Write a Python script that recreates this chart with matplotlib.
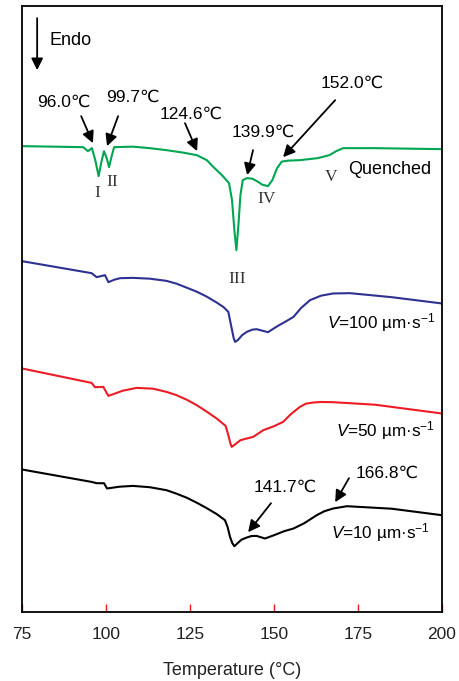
import matplotlib.pyplot as plt

plt.rcParams['font.family'] = ['Liberation Sans', 'DejaVu Sans']
plt.rcParams['mathtext.fontset'] = 'custom'
plt.rcParams['mathtext.rm'] = 'Liberation Sans'
plt.rcParams['mathtext.it'] = 'Liberation Sans:italic'

# heat flow in arbitrary units (endo down)
temp_q = [75, 93.2, 94.6, 95.8, 96.8, 97.8, 98.6, 99.4, 100.2, 100.9, 101.6, 102.4,
          108, 113, 118, 123, 127, 130, 132, 134.5, 136.6, 137.5, 138.2, 138.8,
          139.4, 140.0, 140.7, 141.9, 143.5, 144.9, 146.5, 148.2, 149.5, 150.9,
          152.3, 154, 157.7, 163, 166.5, 168.5, 170.6, 180, 200]
heat_q = [146, 147, 151, 148, 160, 176, 162, 151, 158, 167, 157, 147,
          146.5, 148, 150, 152.5, 155, 160, 167, 175, 183, 200, 230, 250,
          225, 195, 180, 178, 178.5, 181, 184.5, 186, 180, 168,
          161.5, 160.5, 160, 158, 155, 151, 148, 148, 149]

temp_100 = [75, 95.7, 97.2, 99.7, 100.7, 102.5, 104.2, 108, 113, 118, 121, 124, 127, 130, 133,
            135, 136.4, 137.3, 138.0, 138.4, 139.2, 140.5, 141.9, 143.5, 144.8, 146.5, 148.2,
            151, 153.8, 155.8, 158, 160.7, 164, 167.6, 172.6, 185, 200]
heat_100 = [261, 273, 277, 275, 282, 279.5, 278, 277.7, 278.5, 280.7, 283.5, 287.5, 291.5, 296.5, 302.5,
            307, 311.7, 326.7, 338, 341.7, 340, 335, 331.7, 329.5, 329, 330.5, 332,
            326, 320.7, 316.7, 308, 300, 295.5, 293.3, 293, 297, 303.3]

temp_50 = [75, 95.7, 96.7, 99.2, 100.7, 102.7, 105, 109.1, 114, 118, 121, 124, 127, 130, 133,
           135.6, 136.4, 137.0, 137.4, 138.5, 140, 141.9, 143.8, 146.8, 150,
           152.7, 155, 157.7, 159.5, 161.7, 164, 167.6, 180, 200]
heat_50 = [368.3, 382.7, 387, 386.7, 395.7, 393.3, 390.5, 387.7, 388.5, 391.7, 395, 399.5, 405, 411.5, 418.5,
           425.7, 435, 443, 446.7, 444, 440, 438.3, 436.7, 430, 426,
           421.7, 414, 406.7, 403.5, 402.3, 401.8, 402, 404.5, 413.3]

temp_10 = [75, 95.7, 97.2, 99.4, 100.3, 104, 108, 113, 118, 121, 124, 127, 130, 133,
           135.4, 136.2, 136.9, 137.6, 138.2, 139, 140.3, 141.9, 143.3, 144.8, 147.3,
           150, 153, 155.8, 159, 162.7, 165, 167.6, 171.7, 185, 200]
heat_10 = [469.3, 481.7, 483, 483, 488.3, 486.5, 485.7, 487, 490, 493.5, 497.5, 502.5, 508, 514,
           520, 527, 536.7, 543, 546, 543.5, 539.5, 537.3, 535.8, 535.7, 538.3,
           535, 531, 528.3, 523, 515, 511, 508.3, 506, 508.5, 515]

fig = plt.figure(figsize=(4.59, 6.81), dpi=100)
ax = fig.add_axes([0.048, 0.101, 0.915, 0.890])

ax.plot(temp_q, heat_q, color='#00a651', lw=1.5)
ax.plot(temp_100, heat_100, color='#2e3192', lw=1.5)
ax.plot(temp_50, heat_50, color='#ed1c24', lw=1.5)
ax.plot(temp_10, heat_10, color='black', lw=1.5)

ax.set_xlim(75, 200)
ax.set_ylim(612, 6)
ax.set_yticks([])
ax.set_xticks([75, 100, 125, 150, 175, 200])
ax.tick_params(axis='x', direction='in', length=6, width=1, color='#ed1c24',
               labelsize=12.5, labelcolor='#222222', pad=11)
for s in ax.spines.values():
    s.set_linewidth(1.3)
ax.set_xlabel('Temperature (°C)', fontsize=13, color='#222222', labelpad=14)

arrow = dict(arrowstyle='-|>,head_length=0.7,head_width=0.35', color='black', lw=1.3,
             shrinkA=0, shrinkB=0)

# Endo marker
ax.annotate('', xy=(79.5, 70), xytext=(79.5, 18), arrowprops=arrow)
ax.text(83.3, 40, 'Endo', fontsize=13, va='center', ha='left')

# peak temperatures: (label, tip, tail, text position)
labels = ['96.0℃', '99.7℃', '124.6℃', '139.9℃', '152.0℃', '141.7℃', '166.8℃']
tips = [(96.1, 143), (100.3, 146), (127.1, 151), (142.0, 175), (152.7, 157), (142.3, 532), (168.2, 502)]
tails = [(92.6, 116), (103.6, 116), (123.5, 123), (143.75, 150), (168.2, 100), (149.1, 503), (172.3, 478)]
text_pos = [(87.5, 102), (108.0, 97), (125.3, 114), (146.7, 132), (173.2, 83), (153.3, 487), (183.6, 473)]
for lab, tip, tail, tp in zip(labels, tips, tails, text_pos):
    ax.annotate('', xy=tip, xytext=tail, arrowprops=arrow)
    ax.text(tp[0], tp[1], lab, fontsize=12.5, ha='center', va='center')

romans = ['I', 'II', 'III', 'IV', 'V']
roman_pos = [(97.3, 193), (101.8, 182), (139.0, 279), (147.9, 199), (167.0, 177)]
for r, p in zip(romans, roman_pos):
    ax.text(p[0], p[1], r, fontsize=12.5, ha='center', va='center',
            family='Liberation Serif', color='#333333')

ax.text(184.5, 169, 'Quenched', fontsize=13, ha='center', va='center')
ax.text(197.9, 322, r'$V$=100 µm·s$^{-1}$', fontsize=12.3, ha='right', va='center')
ax.text(197.9, 430, r'$V$=50 µm·s$^{-1}$', fontsize=12.3, ha='right', va='center')
ax.text(196.4, 532, r'$V$=10 µm·s$^{-1}$', fontsize=12.3, ha='right', va='center')

fig.savefig('out.png', dpi=100)
